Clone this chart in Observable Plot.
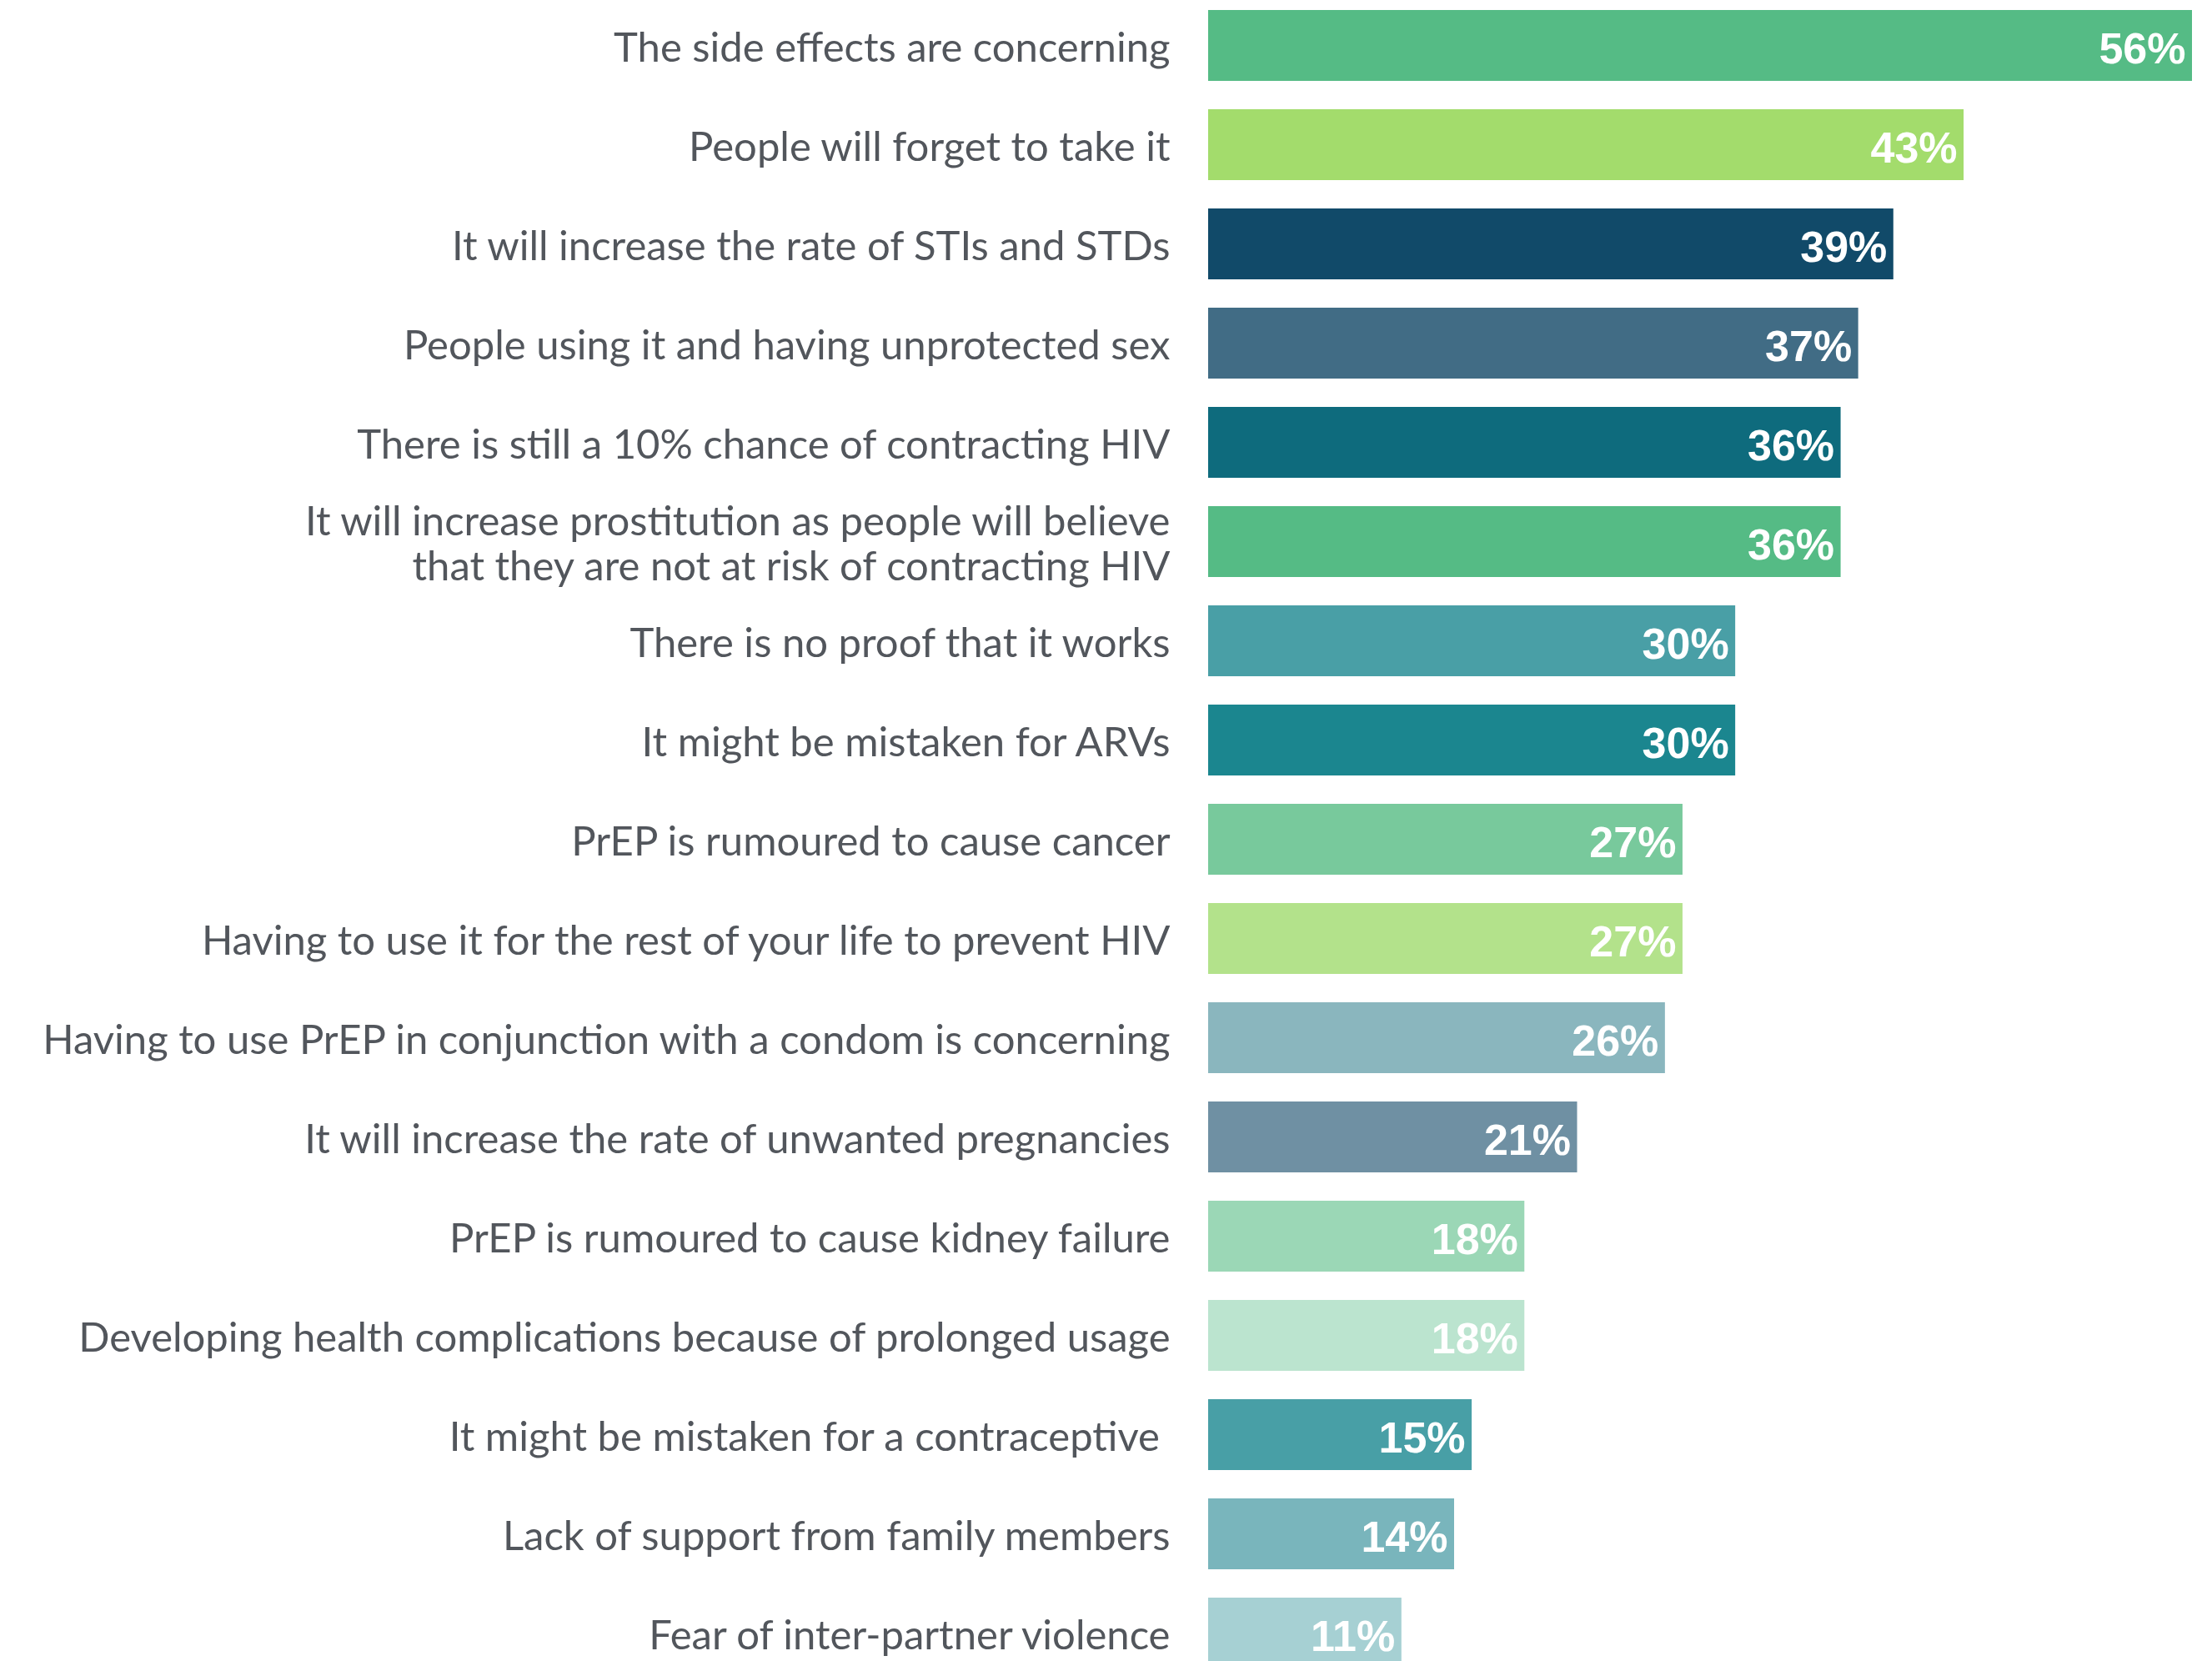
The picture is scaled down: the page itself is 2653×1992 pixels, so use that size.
<!DOCTYPE html>
<html>
<head>
<meta charset="utf-8">
<script src="https://cdn.jsdelivr.net/npm/d3@7"></script>
<script src="https://cdn.jsdelivr.net/npm/@observablehq/plot@0.6"></script>
<style>
  html, body { margin: 0; padding: 0; background: #fff; }
  #chart svg { display: block; }
</style>
</head>
<body>
<div id="chart"></div>
<script>
const concerns = [
  "The side effects are concerning",
  "People will forget to take it",
  "It will increase the rate of STIs and STDs",
  "People using it and having unprotected sex",
  "There is still a 10% chance of contracting HIV",
  "It will increase prostitution as people will believe\nthat they are not at risk of contracting HIV",
  "There is no proof that it works",
  "It might be mistaken for ARVs",
  "PrEP is rumoured to cause cancer",
  "Having to use it for the rest of your life to prevent HIV",
  "Having to use PrEP in conjunction with a condom is concerning",
  "It will increase the rate of unwanted pregnancies",
  "PrEP is rumoured to cause kidney failure",
  "Developing health complications because of prolonged usage",
  "It might be mistaken for a contraceptive ",
  "Lack of support from family members",
  "Fear of inter-partner violence"
];
const shares = [56, 43, 39, 37, 36, 36, 30, 30, 27, 27, 26, 21, 18, 18, 15, 14, 11];
const palette = [
  "#55bb85", "#a3dc6c", "#114a69", "#416c85", "#0e6b7d", "#55bb85",
  "#499fa6", "#1b868f", "#78c99c", "#b3e28b", "#8ab6be", "#6f90a3",
  "#9bd7b6", "#bbe4cf", "#489fa6", "#79b5bc", "#a6d0d3"
];

const rows = concerns.map((c, i) => ({concern: c, share: shares[i]}));

const step = 119.1, barH = 85, firstTop = 11.5;
const pad = (step - barH) / step;
const r0 = firstTop - step * pad / 2;
const r1 = r0 + step * concerns.length;

const chart = Plot.plot({
  width: 2653,
  height: 1992,
  marginLeft: 1449,
  marginRight: 24,
  marginTop: 0,
  marginBottom: 0,
  x: {domain: [0, 56], axis: null},
  y: {domain: concerns, range: [r0, r1], paddingInner: pad, paddingOuter: pad / 2, label: null},
  color: {type: "ordinal", domain: concerns, range: palette},
  marks: [
    Plot.barX(rows, {x: "share", y: "concern", fill: "concern"}),
    Plot.axisY({
      tickSize: 0,
      tickPadding: 46,
      dy: 2,
      fontSize: 49,
      fill: "#52565c",
      lineHeight: 1.1,
      fontFamily: "Lato",
      textOverflow: null
    }),
    Plot.text(rows, {
      x: "share",
      y: "concern",
      text: d => d.share + "%",
      textAnchor: "end",
      dx: -8,
      dy: 4,
      fill: "white",
      fontSize: 52,
      fontWeight: "bold",
      fontFamily: "Liberation Sans"
    })
  ]
});
document.getElementById("chart").appendChild(chart);
</script>
</body>
</html>
